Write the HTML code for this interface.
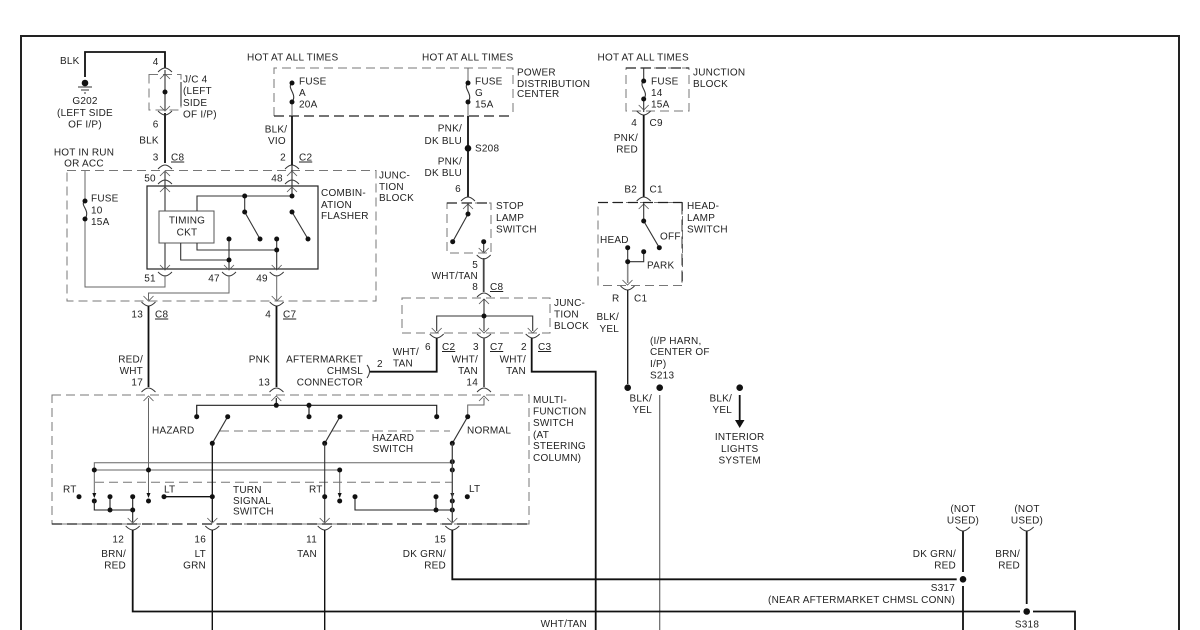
<!DOCTYPE html>
<html><head><meta charset="utf-8"><style>
html,body{margin:0;padding:0;background:#fff;width:1200px;height:630px;overflow:hidden}
svg{display:block;filter:blur(.3px)}
text{font-family:"Liberation Sans",sans-serif;font-size:10px;fill:#222;letter-spacing:.22px}
.e{text-anchor:end}.m{text-anchor:middle}
.u{text-decoration:underline}
.w{fill:none;stroke:#111;stroke-width:1.8}
.n{fill:none;stroke:#333;stroke-width:1.1}
.g{fill:none;stroke:#666;stroke-width:1}
.dg{fill:none;stroke:#777;stroke-width:1;stroke-dasharray:9 5}
.dk{fill:none;stroke:#222;stroke-width:1.3;stroke-dasharray:10 5}
</style></head><body>
<svg width="1200" height="630" viewBox="0 0 1200 630" xmlns="http://www.w3.org/2000/svg">
<defs>
<path id="ca" d="M-7,3 Q-3,-1 0,-1 Q3,-1 7,3" fill="none" stroke="#333" stroke-width=".9"/>
<path id="cv" d="M-7,-3 Q-3,1 0,1 Q3,1 7,-3" fill="none" stroke="#333" stroke-width=".9"/>
<path id="au" d="M-5,4 L0,-1 L5,4" fill="none" stroke="#555" stroke-width=".8"/>
<path id="ad" d="M-5,-4 L0,1 L5,-4" fill="none" stroke="#555" stroke-width=".8"/>
<circle id="d" r="2.5" fill="#111"/>
<circle id="D" r="3.3" fill="#111"/>
<path id="t" d="M-2,-5 L2,-5 L0,0 Z" fill="#111"/>
</defs>

<!-- frame -->
<path d="M21,630 V36 H1179 V630" fill="none" stroke="#222" stroke-width="2"/>

<!-- dashed boxes -->
<rect x="149" y="74.5" width="32" height="35.5" class="dg"/>
<path d="M181,82 V106" stroke="#222" fill="none"/>
<path d="M274,116 V68 H513 V116" class="dg"/>
<path d="M274,116 H513" class="dk"/>
<rect x="67" y="170.5" width="309" height="130.5" class="dg"/>
<rect x="626" y="68" width="63" height="43" class="dg"/>
<path d="M626,68 H689" class="dk"/>
<rect x="447" y="203" width="44" height="50" class="dg"/>
<path d="M447,203 H491" class="dk"/>
<rect x="598" y="202.5" width="84.5" height="83" class="dg"/>
<path d="M598,202.5 H682" class="dk"/>
<path d="M682,202.5 V285" stroke="#333" stroke-dasharray="12 5" fill="none"/>
<rect x="402" y="298" width="148" height="35" class="dg"/>
<rect x="52" y="395" width="477" height="129" class="dg" stroke-width="1.2"/>
<path d="M52,524 H529" class="dk"/>
<path d="M52,395 H529" class="dg" stroke-width="1.4"/>
<path d="M220,431 H450" class="dg"/>
<path d="M95,482.3 H452" class="dg"/>

<!-- left top -->
<path d="M85,77 V52 H165 V68" class="w"/>
<path d="M165,70 V110" class="n"/>
<path d="M165,113 V163" class="w"/>
<use href="#ca" x="165" y="69"/><use href="#au" x="165" y="75"/><use href="#d" x="165" y="92"/><use href="#ad" x="165" y="110"/><use href="#cv" x="165" y="114"/>
<use href="#D" x="85" y="83"/>
<path d="M78,87 H92 M81,90 H89 M84,93 H86" stroke="#333" fill="none"/>
<use href="#ca" x="165" y="166"/><use href="#au" x="165" y="172"/><use href="#ca" x="165" y="181"/><use href="#au" x="165" y="188"/>

<!-- flasher -->
<rect x="147" y="186" width="171" height="83" fill="none" stroke="#222" stroke-width="1.2"/>
<path d="M165,172 V269" class="n"/>
<rect x="159" y="211" width="55" height="32" fill="#fff" stroke="#555" stroke-width="1"/>
<path d="M292,165 V196 H197 V211" class="n"/>
<path d="M244.7,196 V212 L260,239 M292,212 L308,239" class="n"/>
<path d="M197,243 V250 H276.7 M276.7,239 V270 M180.7,243 V260 H229 M229,239 V270" class="n"/>
<use href="#ca" x="292" y="166"/><use href="#au" x="292" y="172"/><use href="#ca" x="292" y="181"/><use href="#au" x="292" y="188"/>
<use href="#d" x="292" y="196"/><use href="#d" x="244.7" y="196"/><use href="#d" x="244.7" y="212"/><use href="#d" x="292" y="212"/>
<use href="#d" x="260" y="239"/><use href="#d" x="308" y="239"/><use href="#d" x="229" y="239"/><use href="#d" x="276.7" y="239"/>
<use href="#d" x="276.7" y="250"/><use href="#d" x="229" y="260"/>
<use href="#ad" x="165" y="269"/><use href="#ad" x="229" y="269"/><use href="#ad" x="276.7" y="269"/>
<use href="#cv" x="165" y="275"/><use href="#cv" x="229" y="275"/><use href="#cv" x="276.7" y="275"/>
<path d="M165,275 V287 H85 V219 M85,201 V171" class="g"/>
<path d="M85,201 C79,205 91,210 85,219" class="n"/>
<use href="#d" x="85" y="201"/><use href="#d" x="85" y="219"/>
<path d="M229,275 V293 H148.5 V300 M276.7,275 V300" class="g"/>
<use href="#ad" x="148.5" y="300"/><use href="#ad" x="276.7" y="300"/>
<use href="#cv" x="148.5" y="305"/><use href="#cv" x="276.7" y="305"/>
<path d="M148.5,306 V387 M276.5,306 V387" class="w"/>
<use href="#ca" x="148.5" y="389"/><use href="#ca" x="276.5" y="389"/>

<!-- fuse A -->
<path d="M292,83 C286,88 298,94 292,102" class="n"/>
<path d="M292,102 V116" class="g"/>
<path d="M292,116 V165" class="w"/>
<use href="#d" x="292" y="83"/><use href="#d" x="292" y="102"/>

<!-- fuse G / stop -->
<path d="M468,68 V83 M468,102 V116" class="g"/>
<path d="M468,83 C462,88 474,94 468,102" class="n"/>
<use href="#d" x="468" y="83"/><use href="#d" x="468" y="102"/>
<path d="M468,116 V197" class="w"/>
<use href="#D" x="468" y="148.3"/>
<use href="#ca" x="468" y="198"/><use href="#au" x="468" y="205"/>
<path d="M468,203 V214 L452.7,241.7 M483.7,241.7 V252" class="n"/>
<use href="#d" x="468" y="214"/><use href="#d" x="452.7" y="241.7"/><use href="#d" x="483.7" y="241.7"/>
<use href="#ad" x="483.7" y="252"/><use href="#cv" x="483.7" y="258"/>
<path d="M483.7,258 V292" stroke="#444" stroke-width="1.8" fill="none"/>
<use href="#ca" x="484" y="294"/><use href="#au" x="484" y="300"/>

<!-- junction block 2 -->
<path d="M484,299 V331 M436.7,331 V316 H532.7 V331" class="n"/>
<use href="#d" x="484" y="316"/>
<use href="#ad" x="436.7" y="332"/><use href="#ad" x="484" y="332"/><use href="#ad" x="532.7" y="332"/>
<use href="#cv" x="436.7" y="337"/><use href="#cv" x="484" y="337"/><use href="#cv" x="532.7" y="337"/>
<path d="M370,371.7 H436.7 V338" class="w"/>
<path d="M367,365 Q372,371 367,378" fill="none" stroke="#333"/>
<path d="M484,338 V387" stroke="#555" stroke-width="1.8" fill="none"/>
<use href="#ca" x="484" y="389"/><use href="#au" x="484" y="397"/>
<path d="M531.7,338 V371.7 H595.7 V630" class="w"/>

<!-- headlamp side -->
<path d="M643.7,68 V81 M643.7,99 V112" class="n"/>
<path d="M643.7,81 C637.7,86 649.7,92 643.7,99" class="n"/>
<use href="#d" x="643.7" y="81"/><use href="#d" x="643.7" y="99"/>
<use href="#ad" x="643.7" y="109"/><use href="#cv" x="643.7" y="114"/>
<path d="M643.7,115 V197" class="w"/>
<use href="#ca" x="643.7" y="198"/><use href="#au" x="643.7" y="205"/>
<path d="M643.7,203 V221 L659.3,247.7 M643.7,251.7 V261.7 H627.7 M627.7,247.7 V283" class="n"/>
<path d="M627.7,262 V283" stroke="#888" stroke-width="1.6" fill="none"/>
<use href="#d" x="643.7" y="221"/><use href="#d" x="659.3" y="247.7"/><use href="#d" x="627.7" y="247.7"/><use href="#d" x="643.7" y="251.7"/><use href="#d" x="627.7" y="261.7"/>
<use href="#ad" x="627.5" y="284"/><use href="#cv" x="627.5" y="289"/>
<path d="M627.7,290 V384" stroke="#222" stroke-width="1.4" fill="none"/>
<use href="#D" x="627.7" y="387.7"/><use href="#D" x="659.7" y="387.7"/><use href="#D" x="739.7" y="387.7"/>
<path d="M659.7,395 V630" stroke="#666" stroke-width="1.2" fill="none"/>
<path d="M739.7,395 V421" class="w"/>
<path d="M735,420 H744.5 L739.7,428 Z" fill="#111"/>

<!-- multifunction -->
<path d="M196.7,416.7 V405.3 H436.7 V416.7 M309,405.3 V416.7 M276.3,398 V405.3" stroke="#222" stroke-width="1.2" fill="none"/>
<use href="#au" x="148.5" y="397"/><use href="#au" x="276.3" y="397"/>
<use href="#d" x="196.7" y="416.7"/><use href="#d" x="276.3" y="405.3"/><use href="#d" x="309" y="405.3"/><use href="#d" x="309" y="416.7"/><use href="#d" x="436.7" y="416.7"/>
<path d="M484,398 V405 H467.7 V416.7" class="g"/>
<path d="M212.3,443.3 L227.7,416.7 M324.7,443.3 L340,416.7 M452.3,443.3 L467.7,416.7" class="n"/>
<use href="#d" x="212.3" y="443.3"/><use href="#d" x="227.7" y="416.7"/><use href="#d" x="324.7" y="443.3"/><use href="#d" x="340" y="416.7"/><use href="#d" x="452.3" y="443.3"/><use href="#d" x="467.7" y="416.7"/>
<path d="M148.5,398 V497" class="g"/>
<path d="M94.3,497 V462.7 H452.3" class="g"/>
<path d="M94.3,470 H339.7 V497" class="g"/>
<use href="#d" x="94.3" y="470"/><use href="#d" x="148.5" y="470"/><use href="#d" x="339.7" y="470"/><use href="#d" x="452.3" y="470"/><use href="#d" x="452.3" y="461.7"/>
<use href="#t" x="94.3" y="498"/><use href="#t" x="148.5" y="498"/><use href="#t" x="339.7" y="498"/><use href="#t" x="452.3" y="498"/>
<use href="#d" x="94.3" y="501"/><use href="#d" x="148.5" y="501"/><use href="#d" x="339.7" y="501"/><use href="#d" x="452.3" y="501"/>
<path d="M94.3,501 V510 H132.7 M110,496.7 V510 M132.7,496.7 V522" stroke="#222" stroke-width="1.1" fill="none"/>
<use href="#d" x="79" y="496.7"/><use href="#d" x="110" y="496.7"/><use href="#d" x="132.7" y="496.7"/><use href="#d" x="110" y="510"/><use href="#d" x="132.7" y="510"/>
<path d="M164,496.7 H212.3" stroke="#111" stroke-width="1.3" fill="none"/>
<use href="#d" x="164" y="496.7"/><use href="#d" x="212.3" y="496.7"/>
<path d="M212.3,443.3 V522" stroke="#111" stroke-width="1.3" fill="none"/>
<path d="M324.7,443.3 V522" class="n"/>
<use href="#d" x="324.7" y="496.7"/>
<path d="M355,496.7 V510 H452.3 M436,496.7 V510" stroke="#222" stroke-width="1.1" fill="none"/>
<use href="#d" x="355" y="496.7"/><use href="#d" x="436" y="496.7"/><use href="#d" x="436" y="510"/><use href="#d" x="452.3" y="510"/><use href="#d" x="467.3" y="496.7"/>
<path d="M452.3,443.3 V522" stroke="#444" stroke-width="1.3" fill="none"/>
<use href="#ad" x="132.7" y="522"/><use href="#ad" x="212.3" y="522"/><use href="#ad" x="324.7" y="522"/><use href="#ad" x="452.3" y="522"/>
<use href="#cv" x="132.7" y="529"/><use href="#cv" x="212.3" y="529"/><use href="#cv" x="324.7" y="529"/><use href="#cv" x="452.3" y="529"/>

<!-- bottom wires -->
<path d="M132.7,530 V611.5 H1020 M1033,611.5 H1075 V630" class="w"/>
<path d="M212.3,530 V630 M324.7,530 V630" stroke="#111" stroke-width="1.4" fill="none"/>
<path d="M452.3,530 V579.3 H956.7" class="w"/>
<path d="M963,531 V572 M963,586 V630 M1026.7,531 V604" class="w" stroke-width="1.5"/>
<use href="#D" x="963" y="579.3"/><use href="#D" x="1026.7" y="611.5"/>
<use href="#cv" x="963" y="530"/><use href="#cv" x="1026.7" y="530"/>

<!-- text -->
<text x="60" y="64">BLK</text>
<text class="m" x="85" y="104">G202</text><text class="m" x="85" y="116">(LEFT SIDE</text><text class="m" x="85" y="127.5">OF I/P)</text>
<text class="m" x="155.7" y="65">4</text><text class="m" x="155.7" y="127.5">6</text><text class="m" x="149" y="143.5">BLK</text><text class="m" x="155.7" y="160.5">3</text>
<text class="m" x="84" y="155.5">HOT IN RUN</text><text class="m" x="84" y="166.5">OR ACC</text>
<text class="m" x="150" y="181.5">50</text><text class="m" x="277" y="181.5">48</text>
<text class="m" x="187" y="223.5">TIMING</text><text class="m" x="187" y="235.5">CKT</text>
<text class="m" x="150" y="281.5">51</text><text class="m" x="214" y="281.5">47</text><text class="m" x="262" y="281.5">49</text>
<text x="183" y="82.5">J/C 4</text><text x="183" y="94">(LEFT</text><text x="183" y="106">SIDE</text><text x="183" y="117.5">OF I/P)</text>
<text class="u" x="171" y="160.5">C8</text><text class="u" x="299" y="160.5">C2</text>
<text x="247" y="60.5">HOT AT ALL TIMES</text><text x="422" y="60.5">HOT AT ALL TIMES</text><text x="597.5" y="60.5">HOT AT ALL TIMES</text>
<text x="299" y="84.5">FUSE</text><text x="299" y="96">A</text><text x="299" y="107.5">20A</text>
<text x="475" y="84.5">FUSE</text><text x="475" y="96">G</text><text x="475" y="107.5">15A</text>
<text x="651" y="84.5">FUSE</text><text x="651" y="96">14</text><text x="651" y="107.5">15A</text>
<text x="91" y="201.5">FUSE</text><text x="91" y="213.5">10</text><text x="91" y="225">15A</text>
<text class="m" x="276" y="132.5">BLK/</text><text class="m" x="277" y="144">VIO</text><text class="m" x="283" y="160.5">2</text>
<text x="517" y="75.5">POWER</text><text x="517" y="87">DISTRIBUTION</text><text x="517" y="97">CENTER</text>
<text x="693" y="75.5">JUNCTION</text><text x="693" y="87">BLOCK</text>
<text x="379" y="178.5">JUNC-</text><text x="379" y="190">TION</text><text x="379" y="201">BLOCK</text>
<text x="321" y="196">COMBIN-</text><text x="321" y="208">ATION</text><text x="321" y="219">FLASHER</text>
<text class="e" x="462" y="131.5">PNK/</text><text class="e" x="462" y="144">DK BLU</text><text class="e" x="462" y="164.5">PNK/</text><text class="e" x="462" y="176">DK BLU</text>
<text x="475" y="151.5">S208</text><text class="m" x="458" y="192">6</text>
<text x="496" y="209">STOP</text><text x="496" y="221">LAMP</text><text x="496" y="232.5">SWITCH</text>
<text class="e" x="478" y="268">5</text><text class="e" x="478" y="279">WHT/TAN</text><text class="e" x="478" y="290">8</text><text class="u" x="490" y="290">C8</text>
<text x="554" y="306">JUNC-</text><text x="554" y="317.5">TION</text><text x="554" y="329">BLOCK</text>
<text class="e" x="637" y="126">4</text><text x="649.5" y="126">C9</text>
<text class="e" x="638" y="141">PNK/</text><text class="e" x="638" y="152.5">RED</text>
<text class="e" x="637" y="192.5">B2</text><text x="649.5" y="192.5">C1</text>
<text x="687" y="209">HEAD-</text><text x="687" y="221">LAMP</text><text x="687" y="232.5">SWITCH</text>
<text x="600" y="243">HEAD</text><text x="647" y="268.7">PARK</text><text x="660" y="239.5">OFF</text>
<text x="612" y="301.5">R</text><text x="634" y="301.5">C1</text>
<text class="e" x="619" y="320">BLK/</text><text class="e" x="619" y="332">YEL</text>
<text x="650" y="344">(I/P HARN,</text><text x="650" y="355">CENTER OF</text><text x="650" y="367">I/P)</text><text x="650" y="378.5">S213</text>
<text class="e" x="652" y="401.5">BLK/</text><text class="e" x="652" y="413">YEL</text>
<text class="e" x="732" y="401.5">BLK/</text><text class="e" x="732" y="413">YEL</text>
<text class="m" x="739.7" y="440">INTERIOR</text><text class="m" x="739.7" y="452">LIGHTS</text><text class="m" x="739.7" y="463.5">SYSTEM</text>
<text class="e" x="143" y="317.5">13</text><text class="u" x="155" y="317.5">C8</text><text class="e" x="271" y="317.5">4</text><text class="u" x="283" y="317.5">C7</text>
<text class="e" x="143" y="362.5">RED/</text><text class="e" x="143" y="374">WHT</text><text class="e" x="143" y="385.5">17</text>
<text class="e" x="270" y="362.5">PNK</text><text class="e" x="270" y="385.5">13</text>
<text class="e" x="363" y="362.5">AFTERMARKET</text><text class="e" x="363" y="374">CHMSL</text><text class="e" x="363" y="385.5">CONNECTOR</text>
<text x="377" y="367">2</text><text class="e" x="419" y="355">WHT/</text><text x="393" y="366.5">TAN</text>
<text x="425" y="350">6</text><text class="u" x="442" y="350">C2</text><text x="473" y="350">3</text><text class="u" x="490" y="350">C7</text><text x="521" y="350">2</text><text class="u" x="538" y="350">C3</text>
<text class="e" x="478" y="362.5">WHT/</text><text class="e" x="478" y="374">TAN</text><text class="e" x="478" y="385.5">14</text>
<text class="e" x="526" y="362.5">WHT/</text><text class="e" x="526" y="374">TAN</text>
<text x="533" y="403">MULTI-</text><text x="533" y="414.5">FUNCTION</text><text x="533" y="426">SWITCH</text><text x="533" y="438">(AT</text><text x="533" y="449">STEERING</text><text x="533" y="461">COLUMN)</text>
<text x="152" y="433.5">HAZARD</text><text class="m" x="393" y="441">HAZARD</text><text class="m" x="393" y="452">SWITCH</text><text x="467" y="433.5">NORMAL</text>
<text x="63" y="492.5">RT</text><text x="164" y="492.5">LT</text><text x="309" y="492.5">RT</text><text x="469" y="492">LT</text>
<text x="233" y="493">TURN</text><text x="233" y="504">SIGNAL</text><text x="233" y="514.5">SWITCH</text>
<text class="e" x="124" y="542.5">12</text><text class="e" x="126" y="557">BRN/</text><text class="e" x="126" y="568.5">RED</text>
<text class="e" x="206" y="542.5">16</text><text class="e" x="206" y="557">LT</text><text class="e" x="206" y="568.5">GRN</text>
<text class="e" x="317" y="542.5">11</text><text class="e" x="317" y="557">TAN</text>
<text class="e" x="446" y="542.5">15</text><text class="e" x="446" y="557">DK GRN/</text><text class="e" x="446" y="568.5">RED</text>
<text class="m" x="963" y="512">(NOT</text><text class="m" x="963" y="523.5">USED)</text>
<text class="m" x="1027" y="512">(NOT</text><text class="m" x="1027" y="523.5">USED)</text>
<text class="e" x="956" y="557">DK GRN/</text><text class="e" x="956" y="568.5">RED</text>
<text class="e" x="1020" y="557">BRN/</text><text class="e" x="1020" y="568.5">RED</text>
<text class="e" x="955" y="591">S317</text><text class="e" x="955" y="603">(NEAR AFTERMARKET CHMSL CONN)</text>
<text class="m" x="1027" y="627.5">S318</text>
<text class="e" x="587" y="627">WHT/TAN</text>
<text x="612" y="637">CENTER</text>
</svg>
</body></html>
